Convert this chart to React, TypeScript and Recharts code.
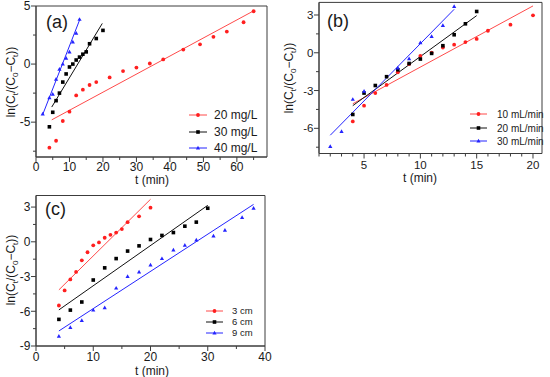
import React from 'react'
import { ScatterChart, Scatter, XAxis, YAxis, ReferenceArea } from 'recharts'

type Pt = [number, number]

const FONT = '"Liberation Sans", Arial, Helvetica, sans-serif'
const AXIS_COLOR = '#3c3c3c'
const RED = '#ff1f1f'
const RED_LINE = '#ff4a4a'
const BLUE = '#2424ff'

// (a) initial concentration
const a20: Pt[] = [[4, -7.2], [6, -6.6], [8, -4.9], [10, -4.1], [12, -2.7], [14, -2.2], [16, -1.8], [18, -1.55], [22, -1.15], [26, -0.6], [30, -0.3], [34, 0.05], [38, 0.4], [44, 1.25], [49, 1.7], [53, 2.35], [57, 2.8], [62, 3.6], [65, 4.55]]
const a30: Pt[] = [[4, -5.4], [5, -4.15], [6, -3.15], [7, -2.5], [8, -1.55], [9, -0.85], [10, -0.25], [11, 0], [12, 0.35], [13, 0.6], [14, 0.85], [15, 1.05], [16, 1.75], [18, 2.2], [20, 2.9]]
const a40: Pt[] = [[2, -4.3], [4, -2.9], [5, -2.6], [6, -1.3], [7, -0.45], [8, 0], [9, 0.5], [10, 1.05], [11, 1.9], [12, 2.65], [13, 3.85]]
const fitA20: Pt[] = [[4.7, -4.8], [65, 4.58]]
const fitA30: Pt[] = [[4.7, -3.7], [19.8, 3.5]]
const fitA40: Pt[] = [[2, -4.35], [13.1, 3.85]]

// (b) flow rate
const b10: Pt[] = [[4, -5.45], [5, -4.2], [6, -3.2], [7, -2.55], [8, -1.55], [9, -0.9], [10, -0.25], [11, 0], [12, 0.42], [13, 0.64], [14, 0.85], [15, 1.1], [16, 1.75], [18, 2.23], [20, 2.97]]
const b20: Pt[] = [[4, -4.9], [5, -3.2], [6, -2.6], [7, -1.9], [8, -1.35], [9, -0.85], [10, -0.5], [11, -0.05], [12, 0.56], [13, 1.43], [14, 2.3], [15, 3.28]]
const b30: Pt[] = [[2, -7.45], [3, -6.25], [4, -3.7], [5, -3.05], [8, -1.2], [9, -0.48], [10, 0.8], [11, 1.3], [12, 2.17], [13, 3.68]]
const fitB10: Pt[] = [[4, -4.05], [20, 3.72]]
const fitB20: Pt[] = [[4, -4.2], [15, 2.95]]
const fitB30: Pt[] = [[2, -6.55], [13, 3.45]]

// (c) bed height
const c3: Pt[] = [[4, -5.5], [5, -4.2], [6, -3.25], [7, -2.6], [8, -1.6], [9, -0.9], [10, -0.3], [11, -0.05], [12, 0.35], [13, 0.6], [14, 0.8], [15, 1.1], [16, 1.7], [18, 2.2], [20, 2.95]]
const c6: Pt[] = [[4, -6.7], [6, -5.9], [8, -5.2], [10, -3.3], [12, -2.25], [14, -1.45], [16, -0.8], [18, -0.35], [20, 0.2], [22, 0.55], [24, 0.8], [26, 1.35], [28, 1.7], [30, 2.9]]
const c9: Pt[] = [[4, -8.15], [6, -7.4], [8, -6.8], [10, -5.9], [12, -5.7], [14, -4.0], [16, -3.0], [18, -2.6], [20, -2.0], [22, -1.45], [24, -0.7], [26, -0.3], [28, 0.15], [31, 0.5], [33, 1.0], [36, 2.1], [38, 2.9]]
const fitC3: Pt[] = [[4, -4.15], [20, 3.67]]
const fitC6: Pt[] = [[4, -5.88], [30, 3.15]]
const fitC9: Pt[] = [[4, -7.7], [38, 3.23]]

const xTicksA = [0, 5, 10, 15, 20, 25, 30, 35, 40, 45, 50, 55, 60, 65]
const xMajorA = [0, 10, 20, 30, 40, 50, 60]
const yTicksA = [-7.5, -5, -2.5, 0, 2.5, 5]
const yMajorA = [-5, 0, 5]
const xTicksB = [1, 2, 3, 4, 5, 6, 7, 8, 9, 10, 11, 12, 13, 14, 15, 16, 17, 18, 19, 20]
const xMajorB = [5, 10, 15, 20]
const yTicksB = [-7.5, -6, -4.5, -3, -1.5, 0, 1.5, 3]
const yMajorB = [-6, -3, 0, 3]
const xTicksC = [0, 5, 10, 15, 20, 25, 30, 35, 40]
const xMajorC = [0, 10, 20, 30, 40]
const yTicksC = [-9, -7.5, -6, -4.5, -3, -1.5, 0, 1.5, 3]
const yMajorC = [-9, -6, -3, 0, 3]

type Kind = 'circle' | 'square' | 'triangle'
type Series = { name: string; color: string; line: string; kind: Kind; pts: Pt[]; fit: Pt[] }

const toObj = (p: Pt[]) => p.map(([t, y]) => ({ t, y }))

function Mark({ kind, color, cx, cy }: { kind: Kind; color: string; cx: number; cy: number }) {
  if (kind === 'circle') return <circle cx={cx} cy={cy} r={1.9} fill={color} />
  if (kind === 'square') return <rect x={cx - 1.8} y={cy - 1.8} width={3.6} height={3.6} fill={color} />
  return <path d={`M${cx},${cy - 2.2}L${cx + 2.1},${cy + 1.5}L${cx - 2.1},${cy + 1.5}Z`} fill={color} />
}

function xTick(majors: number[], fs: number, gap: number) {
  return (p: any) => {
    const { x, y, payload } = p
    const major = majors.includes(payload.value)
    return (
      <g>
        <line x1={x} x2={x} y1={y} y2={y + (major ? 5 : 3)} stroke={AXIS_COLOR} />
        {major && (
          <text x={x} y={y + gap} textAnchor="middle" fontSize={fs} fontFamily={FONT} fill="#1a1a1a">
            {payload.value}
          </text>
        )}
      </g>
    )
  }
}

function yTick(majors: number[], fs: number) {
  return (p: any) => {
    const { x, y, payload } = p
    const major = majors.includes(payload.value)
    return (
      <g>
        <line x1={x} x2={x - (major ? 5 : 3)} y1={y} y2={y} stroke={AXIS_COLOR} />
        {major && (
          <text x={x - 5.5} y={y + fs * 0.36} textAnchor="end" fontSize={fs} fontFamily={FONT} fill="#1a1a1a">
            {payload.value}
          </text>
        )}
      </g>
    )
  }
}

type PanelProps = {
  left: number; top: number; width: number; height: number
  margin: { top: number; right: number; bottom: number; left: number }
  xAxisH: number; yAxisW: number
  xDomain: [number, number]; yDomain: [number, number]
  xTicks: number[]; xMajor: number[]; yTicks: number[]; yMajor: number[]
  tickFs: number; xGap: number
  series: Series[]
  tag: string; tagX: number; tagY: number
  xTitleX: number; xTitleY: number; yTitleX: number; yTitleY: number
  legRows: number[]; legX1: number; legX2: number; legTextX: number; legFs: number
}

function Panel(p: PanelProps) {
  return (
    <div style={{ position: 'absolute', left: p.left, top: p.top, width: p.width, height: p.height }}>
      <ScatterChart width={p.width} height={p.height} margin={p.margin}>
        <XAxis type="number" dataKey="t" domain={p.xDomain} ticks={p.xTicks} interval={0} allowDataOverflow
          height={p.xAxisH} tickSize={0} tickMargin={0} tickLine={false} axisLine={{ stroke: AXIS_COLOR }}
          tick={xTick(p.xMajor, p.tickFs, p.xGap)} />
        <YAxis type="number" dataKey="y" domain={p.yDomain} ticks={p.yTicks} interval={0} allowDataOverflow
          width={p.yAxisW} tickSize={0} tickMargin={0} tickLine={false} axisLine={{ stroke: AXIS_COLOR }}
          tick={yTick(p.yMajor, p.tickFs)} />
        <ReferenceArea x1={p.xDomain[0]} x2={p.xDomain[1]} y1={p.yDomain[0]} y2={p.yDomain[1]}
          fill="none" fillOpacity={0} stroke={AXIS_COLOR} strokeWidth={1} />
        {p.series.map((s) => (
          <Scatter key={s.name + '-fit'} data={toObj(s.fit)} line={{ stroke: s.line, strokeWidth: 1 }}
            shape={() => <g />} isAnimationActive={false} />
        ))}
        {p.series.map((s) => (
          <Scatter key={s.name} data={toObj(s.pts)} fill={s.color} isAnimationActive={false}
            shape={(q: any) => <Mark kind={s.kind} color={s.color} cx={q.cx} cy={q.cy} />} />
        ))}
      </ScatterChart>
      <svg width={p.width} height={p.height} style={{ position: 'absolute', left: 0, top: 0, pointerEvents: 'none' }}
        fontFamily={FONT} fill="#1a1a1a">
        <text x={p.tagX} y={p.tagY} fontSize={18}>{p.tag}</text>
        <text x={p.xTitleX} y={p.xTitleY} fontSize={12} textAnchor="middle">t (min)</text>
        <text transform={`translate(${p.yTitleX},${p.yTitleY}) rotate(-90)`} fontSize={12} textAnchor="middle">
          ln(C<tspan fontSize={8} dy={2.5}>t</tspan><tspan dy={-2.5}>/(C</tspan><tspan fontSize={8} dy={2.5}>0</tspan>
          <tspan dy={-2.5}>−C</tspan><tspan fontSize={8} dy={2.5}>t</tspan><tspan dy={-2.5}>))</tspan>
        </text>
        {p.series.map((s, i) => {
          const y = p.legRows[i]
          const cx = (p.legX1 + p.legX2) / 2
          return (
            <g key={s.name}>
              <line x1={p.legX1} x2={p.legX2} y1={y} y2={y} stroke={s.line} strokeWidth={1} />
              <Mark kind={s.kind} color={s.color} cx={cx} cy={y} />
              <text x={p.legTextX} y={y + p.legFs * 0.36} fontSize={p.legFs}>{s.name}</text>
            </g>
          )
        })}
      </svg>
    </div>
  )
}

const seriesA: Series[] = [
  { name: '20 mg/L', color: RED, line: RED_LINE, kind: 'circle', pts: a20, fit: fitA20 },
  { name: '30 mg/L', color: '#000', line: '#111', kind: 'square', pts: a30, fit: fitA30 },
  { name: '40 mg/L', color: BLUE, line: BLUE, kind: 'triangle', pts: a40, fit: fitA40 },
]
const seriesB: Series[] = [
  { name: '10 mL/min', color: RED, line: RED_LINE, kind: 'circle', pts: b10, fit: fitB10 },
  { name: '20 mL/min', color: '#000', line: '#111', kind: 'square', pts: b20, fit: fitB20 },
  { name: '30 mL/min', color: BLUE, line: BLUE, kind: 'triangle', pts: b30, fit: fitB30 },
]
const seriesC: Series[] = [
  { name: '3 cm', color: RED, line: RED_LINE, kind: 'circle', pts: c3, fit: fitC3 },
  { name: '6 cm', color: '#000', line: '#111', kind: 'square', pts: c6, fit: fitC6 },
  { name: '9 cm', color: BLUE, line: BLUE, kind: 'triangle', pts: c9, fit: fitC9 },
]

export default function App() {
  return (
    <div style={{ position: 'absolute', left: 0, top: 0, width: 550, height: 377, background: '#fff', overflow: 'hidden' }}>
      <Panel left={0} top={0} width={275} height={190}
        margin={{ top: 6, right: 8, bottom: 3, left: 6 }} xAxisH={30} yAxisW={30}
        xDomain={[0, 69]} yDomain={[-8, 5]}
        xTicks={xTicksA} xMajor={xMajorA} yTicks={yTicksA} yMajor={yMajorA}
        tickFs={12} xGap={14} series={seriesA}
        tag="(a)" tagX={46} tagY={28}
        xTitleX={152} xTitleY={184} yTitleX={15} yTitleY={82}
        legRows={[115, 132, 148]} legX1={189} legX2={207} legTextX={214} legFs={12} />
      <Panel left={275} top={0} width={275} height={190}
        margin={{ top: 2.4, right: 8, bottom: 6.5, left: 14 }} xAxisH={30} yAxisW={30}
        xDomain={[1, 20.8]} yDomain={[-8, 4]}
        xTicks={xTicksB} xMajor={xMajorB} yTicks={yTicksB} yMajor={yMajorB}
        tickFs={11.5} xGap={15.5} series={seriesB}
        tag="(b)" tagX={52} tagY={27}
        xTitleX={145} xTitleY={182} yTitleX={18} yTitleY={78}
        legRows={[114, 128, 141]} legX1={195} legX2={212} legTextX={222} legFs={10} />
      <Panel left={0} top={185} width={275} height={192}
        margin={{ top: 10.5, right: 10, bottom: 3, left: 6 }} xAxisH={28} yAxisW={30}
        xDomain={[0, 40]} yDomain={[-9, 4]}
        xTicks={xTicksC} xMajor={xMajorC} yTicks={yTicksC} yMajor={yMajorC}
        tickFs={12} xGap={14.5} series={seriesC}
        tag="(c)" tagX={45} tagY={30}
        xTitleX={152} xTitleY={190} yTitleX={15} yTitleY={85}
        legRows={[126, 137, 148]} legX1={206} legX2={223} legTextX={232} legFs={9.5} />
    </div>
  )
}
